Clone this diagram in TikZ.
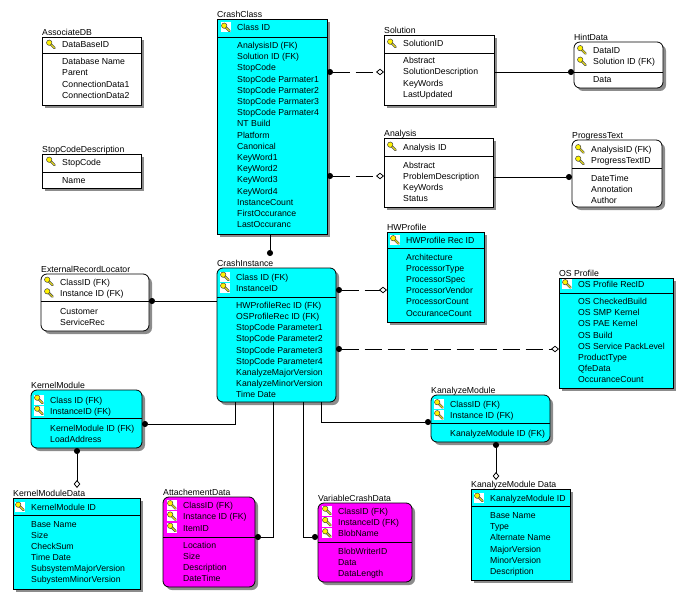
\documentclass[tikz,border=0pt]{standalone}
\usepackage{fontspec}
\setmainfont{Liberation Sans}
\usetikzlibrary{arrows.meta}
\definecolor{erCyan}{HTML}{00FFFF}
\definecolor{erMag}{HTML}{FF00FF}
\newcommand\rowfont{\fontsize{8.7}{10}\selectfont}
\tikzset{
  ebox/.style={draw, line width=.8pt, anchor=north west, inner sep=0pt, outer sep=0pt},
  sq/.style={ebox, fill=white},
  rw/.style={ebox, fill=white, rounded corners=6pt},
  cy/.style={ebox, fill=erCyan},
  cyr/.style={ebox, fill=erCyan, rounded corners=6pt},
  mgr/.style={ebox, fill=erMag, rounded corners=6pt},
  shad/.style={draw=none, fill=black!45},
  ttl/.style={anchor=base west, inner sep=0pt, font=\rowfont, yshift=1.5pt},
  row/.style={anchor=base west, inner sep=0pt, font=\rowfont},
  rel/.style={line width=.8pt},
  reldash/.style={rel, dash pattern=on 17pt off 6pt},
  edot/.tip={Circle[length=6pt]},
  edia/.tip={Diamond[open,length=8pt,width=6.5pt]}
}
\newcommand\keyic[2]{%
  \fill[white] (#1-5,#2-5) rectangle (#1+5,#2+5);
  \draw[line width=2.4pt, black!75, line cap=round] (#1-1,#2-1) -- (#1+3.5,#2+3.5);
  \draw[line width=1.2pt, yellow!85!black, line cap=round] (#1-1,#2-1) -- (#1+3.5,#2+3.5);
  \filldraw[fill=yellow, draw=black!75, line width=.5pt] (#1-1.8,#2-1.8) circle (2.7pt);
}
\newcommand\entity[8]{%
  \node[#6, shad, minimum width=#4pt, minimum height=#5pt] at (#2+3,#3+3) {};
  \node[#6, minimum width=#4pt, minimum height=#5pt] (#1) at (#2,#3) {};
  \draw[line width=.8pt] (#1.west |- 0,#7) -- (#1.east |- 0,#7);
  \node[ttl] (#1-t) at (#1.north west) {#8};
}
\newcommand\keyrows[5]{%
  \foreach \t [count=\i] in {#5} {
    \pgfmathsetmacro\yy{#3+(\i-1)*#4}
    \keyic{#2-11}{\yy-3.5}
    \node[row] (#1-k\i) at (#2,\yy) {\t};
  }}
\newcommand\attrrows[5]{%
  \foreach \t [count=\i] in {#5} {
    \pgfmathsetmacro\yy{#3+(\i-1)*#4}
    \node[row] (#1-a\i) at (#2,\yy) {\t};
  }}
\begin{document}
\begin{tikzpicture}[x=1pt,y=-1pt]
\useasboundingbox (0,0) rectangle (678,602);

% AssociateDB
\entity{aso}{42}{37}{99}{68}{sq}{53}{AssociateDB}
\keyrows{aso}{62}{48}{11.3}{DataBaseID}
\attrrows{aso}{62}{64.5}{11.3}{Database Name, Parent, ConnectionData1, ConnectionData2}

% StopCodeDescription
\entity{scd}{42}{154}{99}{34}{sq}{172}{StopCodeDescription}
\keyrows{scd}{62}{165}{11}{StopCode}
\attrrows{scd}{62}{183.5}{11}{Name}

% CrashClass
\entity{cc}{217}{19}{110}{215}{cy}{37}{CrashClass}
\keyrows{cc}{237}{31}{11}{Class ID}
\attrrows{cc}{237}{48.5}{11.2}{AnalysisID (FK), Solution ID (FK), StopCode, StopCode Parmater1, StopCode Parmater2, StopCode Parmater3, StopCode Parmater4, NT Build, Platform, Canonical, KeyWord1, KeyWord2, KeyWord3, KeyWord4, InstanceCount, FirstOccurance, LastOccuranc}

% Solution
\entity{sol}{384}{35}{110}{70}{sq}{53}{Solution}
\keyrows{sol}{403}{47}{11}{SolutionID}
\attrrows{sol}{403}{63.5}{11.3}{Abstract, SolutionDescription, KeyWords, LastUpdated}

% HintData
\entity{hint}{574}{42}{89}{46}{rw}{72}{HintData}
\keyrows{hint}{593}{53.5}{11.5}{DataID, Solution ID (FK)}
\attrrows{hint}{593}{83}{11}{Data}

% Analysis
\entity{ana}{384}{138}{109}{69}{sq}{156}{Analysis}
\keyrows{ana}{403}{150}{11}{Analysis ID}
\attrrows{ana}{403}{168}{11.2}{Abstract, ProblemDescription, KeyWords, Status}

% ProgressText
\entity{prog}{572}{140}{90}{67}{rw}{168}{ProgressText}
\keyrows{prog}{591}{152.5}{11.5}{AnalysisID (FK), ProgressTextID}
\attrrows{prog}{591}{181}{11.2}{DateTime, Annotation, Author}

% HWProfile
\entity{hw}{387}{232}{97}{90}{cy}{248}{HWProfile}
\keyrows{hw}{406}{243.5}{11}{HWProfile Rec ID}
\attrrows{hw}{406}{260}{11.2}{Architecture, ProcessorType, ProcessorSpec, ProcessorVendor, ProcessorCount, OccuranceCount}

% ExternalRecordLocator
\entity{erl}{41}{274}{108}{57}{rw}{301}{ExternalRecordLocator}
\keyrows{erl}{60}{285}{11.6}{ClassID (FK), Instance ID (FK)}
\attrrows{erl}{60}{314}{11}{Customer, ServiceRec}

% CrashInstance
\entity{ci}{217}{268}{119}{134}{cyr}{297}{CrashInstance}
\keyrows{ci}{236}{280}{11}{Class ID (FK), InstanceID}
\attrrows{ci}{236}{308.5}{11.16}{HWProfileRec ID (FK), OSProfileRec ID (FK), StopCode Parameter1, StopCode Parameter2, StopCode Parameter3, StopCode Parameter4, KanalyzeMajorVersion, KanalyzeMinorVersion, Time Date}

% OS Profile
\entity{os}{559}{278}{114}{110}{cy}{293}{OS Profile}
\keyrows{os}{578}{287.5}{11}{OS Profile RecID}
\attrrows{os}{578}{304.5}{11.2}{OS CheckedBuild, OS SMP Kernel, OS PAE Kernel, OS Build, OS Service PackLevel, ProductType, QfeData, OccuranceCount}

% KernelModule
\entity{km}{31}{390}{111}{58}{cyr}{418}{KernelModule}
\keyrows{km}{50}{403}{11}{Class ID (FK), InstanceID (FK)}
\attrrows{km}{50}{431}{11}{KernelModule ID (FK), LoadAddress}

% KernelModuleData
\entity{kmd}{13}{498}{127}{91}{cy}{515}{KernelModuleData}
\keyrows{kmd}{31}{510}{11}{KernelModule ID}
\attrrows{kmd}{31}{527}{11.1}{Base Name, Size, CheckSum, Time Date, SubsystemMajorVersion, SubystemMinorVersion}

% AttachementData
\entity{att}{163}{497}{92}{90}{mgr}{537}{AttachementData}
\keyrows{att}{183}{508.5}{11.3}{ClassID (FK), Instance ID (FK), ItemID}
\attrrows{att}{183}{548}{11.3}{Location, Size, Description, DateTime}

% VariableCrashData
\entity{vcd}{318}{503}{94}{79}{mgr}{542}{VariableCrashData}
\keyrows{vcd}{338}{514}{11.3}{ClassID (FK), InstanceID (FK), BlobName}
\attrrows{vcd}{338}{554.5}{10.8}{BlobWriterID, Data, DataLength}

% KanalyzeModule
\entity{kam}{431}{395}{119}{47}{cyr}{423}{KanalyzeModule}
\keyrows{kam}{450}{407.5}{11}{ClassID (FK), Instance ID (FK)}
\attrrows{kam}{450}{436}{11}{KanalyzeModule ID (FK)}

% KanalyzeModuleData
\entity{kamd}{471}{489}{99}{91}{cy}{506}{KanalyzeModule Data}
\keyrows{kamd}{490}{501}{11}{KanalyzeModule ID}
\attrrows{kamd}{490}{518.5}{11.2}{Base Name, Type, Alternate Name, MajorVersion, MinorVersion, Description}

% connectors
\draw[reldash, edot-edia] (cc.east |- 0,72) -- (sol.west |- 0,72);
\draw[rel, -edot] (sol.east |- 0,72) -- (hint.west |- 0,72);
\draw[reldash, edot-edia] (cc.east |- 0,176) -- (ana.west |- 0,176);
\draw[rel, -edot] (ana.east |- 0,177) -- (prog.west |- 0,177);
\draw[rel, -edot, shorten >=12pt] (cc.south -| 270,0) -- (ci.north -| 270,0);
\draw[rel, edot-] (erl.east |- 0,301) -- (ci.west |- 0,301);
\draw[reldash, edot-edia] (ci.east |- 0,290) -- (hw.west |- 0,290);
\draw[reldash, edot-edia] (ci.east |- 0,349) -- (os.west |- 0,349);
\draw[rel, -edot] (ci.south -| 235,0) |- (km.east |- 0,424);
\draw[rel, edot-edia, shorten >=10pt] (km.south -| 77,0) -- (kmd.north -| 77,0);
\draw[rel, -edot] (ci.south -| 273,0) |- (att.east |- 0,537);
\draw[rel, -edot] (ci.south -| 303,0) |- (vcd.west |- 0,537);
\draw[rel, -edot] (ci.south -| 321,0) |- (kam.west |- 0,422);
\draw[rel, edot-edia, shorten >=9pt] (kam.south -| 496,0) -- (kamd.north -| 496,0);
\end{tikzpicture}
\end{document}
